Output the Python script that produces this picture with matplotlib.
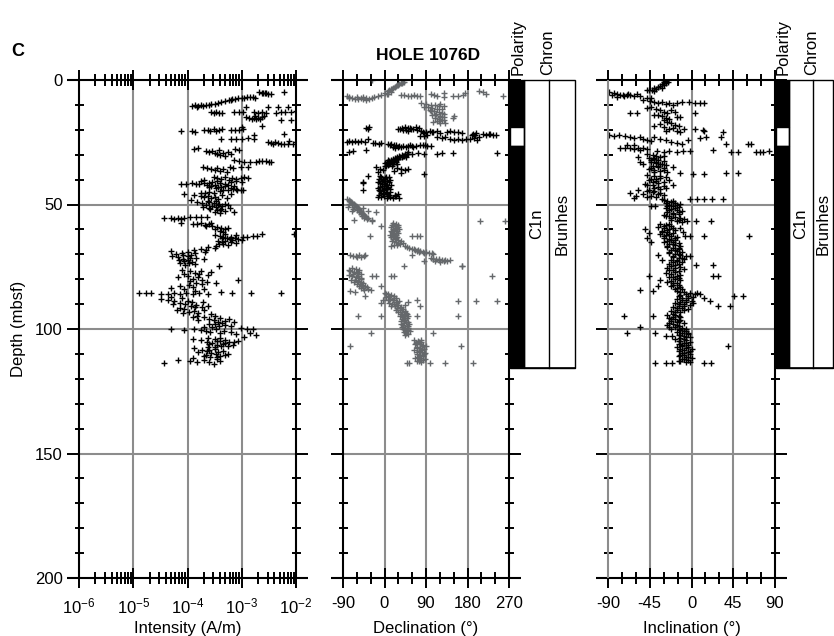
import numpy as np
import matplotlib
matplotlib.use("Agg")
import matplotlib.pyplot as plt
from matplotlib.patches import Rectangle
from matplotlib.ticker import FixedLocator, FixedFormatter, NullFormatter

plt.rcParams['font.family'] = ['Liberation Sans', 'DejaVu Sans']
plt.rcParams['font.size'] = 12
plt.rcParams['axes.unicode_minus'] = False

# ---------------------------------------------------------------- data
# Intensity of NRM after demagnetization: (depth mbsf, log10 intensity A/m)
intensity = [
    (5.0, -2.68), (5.2, -2.63), (5.4, -2.58), (5.1, -2.55), (5.6, -2.52), (5.8, -2.47), (5.3, -2.61), (4.7, -2.23),
    (8.3, -3.30), (8.0, -3.24), (7.8, -3.18), (7.6, -3.12), (7.4, -3.06), (7.2, -3.00), (7.3, -2.95), (7.0, -2.90),
    (6.9, -2.85), (6.8, -2.80), (7.1, -2.76), (7.9, -3.20),
    (10.3, -3.91), (10.0, -3.86), (10.4, -3.81), (10.2, -3.76), (10.4, -3.71), (10.1, -3.66), (10.0, -3.61),
    (9.8, -3.56), (9.5, -3.50), (9.2, -3.44), (9.0, -3.38), (10.7, -3.82),
    (10.7, -2.92), (10.7, -2.52), (10.8, -2.34), (10.7, -2.15),
    (13.0, -3.57), (13.1, -3.52), (13.0, -3.47), (13.2, -3.42), (13.1, -3.36), (13.0, -3.14), (12.8, -3.05),
    (13.0, -2.98), (12.9, -2.77), (13.2, -2.70), (13.0, -2.62), (13.2, -2.56), (13.1, -2.37), (12.9, -2.28),
    (12.9, -2.20), (12.7, -2.10), (12.4, -2.00),
    (14.9, -2.92), (15.2, -2.86), (15.6, -2.82), (15.4, -2.78), (15.8, -2.74), (15.1, -2.70), (15.5, -2.66),
    (14.8, -2.62), (14.6, -2.59), (16.0, -2.28), (16.1, -2.09), (14.5, -2.76),
    (18.8, -2.99), (18.6, -2.62), (20.6, -4.12), (20.6, -3.91), (20.9, -3.86), (20.2, -3.69), (20.0, -3.63),
    (20.4, -3.58), (19.8, -3.52), (20.6, -3.47), (20.2, -3.42), (19.6, -3.36), (19.9, -3.20), (20.1, -3.12),
    (20.2, -3.05), (19.5, -2.98),
    (22.0, -2.77), (21.8, -2.22), (23.5, -3.38), (23.7, -3.20), (23.6, -3.10), (23.8, -3.00), (23.4, -2.88), (23.6, -2.77),
    (24.8, -2.52), (25.2, -2.46), (25.6, -2.42), (25.0, -2.38), (25.4, -2.33), (25.8, -2.28), (25.6, -2.22),
    (25.9, -2.14), (25.7, -2.06), (25.0, -2.00), (24.4, -2.12),
    (27.8, -3.88), (27.5, -3.80), (28.5, -3.66), (29.0, -3.60), (28.6, -3.55), (29.4, -3.50), (29.8, -3.46),
    (28.2, -3.42), (30.1, -3.40), (29.2, -3.35), (30.5, -3.30), (28.8, -3.25), (29.6, -3.20), (27.6, -3.12), (28.0, -3.05),
    (32.3, -3.14), (32.6, -3.05), (32.8, -2.95), (33.0, -2.85), (32.8, -2.74), (32.5, -2.68), (32.7, -2.62),
    (32.4, -2.56), (32.9, -2.50), (33.1, -2.46),
    (35.0, -3.72), (35.4, -3.64), (35.6, -3.56), (36.0, -3.50), (35.2, -3.45), (36.4, -3.40), (35.8, -3.34),
    (36.8, -3.28), (34.8, -3.22), (35.5, -3.16), (35.1, -3.02), (34.9, -2.88),
    (38.8, -3.51), (39.2, -3.45), (39.6, -3.38), (39.0, -3.30), (40.0, -3.24), (39.4, -3.18), (39.8, -3.10),
    (39.2, -3.02), (38.8, -2.95), (39.5, -2.88),
    (41.6, -4.12), (41.8, -4.02), (41.5, -3.92), (41.7, -3.85), (41.9, -3.78), (41.4, -3.70), (42.2, -3.64),
    (42.6, -3.56), (42.0, -3.50), (43.0, -3.44), (42.8, -3.38), (44.0, -3.34), (44.2, -3.25), (43.8, -3.16),
    (44.0, -3.08), (44.1, -2.98), (45.2, -3.76), (45.4, -3.68), (45.0, -3.60), (45.3, -3.52), (41.0, -3.20),
    (40.6, -3.10), (40.8, -3.00), (40.5, -3.75), (41.2, -3.60), (42.5, -3.30), (43.2, -3.20), (43.6, -3.10), (44.1, -3.02),
    (40.2, -3.70), (40.9, -3.55), (41.5, -3.40), (42.3, -3.25), (43.0, -3.60), (43.5, -3.48), (42.7, -3.15),
    (41.8, -3.30), (40.4, -3.45), (44.5, -3.40),
    (45.8, -4.06), (46.2, -3.88), (46.6, -3.76), (47.0, -3.70), (46.4, -3.62), (47.4, -3.56), (46.8, -3.50),
    (47.8, -3.44), (46.0, -3.36), (47.2, -3.28), (45.9, -3.20),
    (48.2, -3.94), (48.8, -3.82), (49.4, -3.74), (50.0, -3.66), (49.0, -3.60), (50.6, -3.54), (51.2, -3.48),
    (49.8, -3.42), (51.8, -3.38), (52.4, -3.46), (52.8, -3.30), (50.4, -3.26), (53.0, -3.14), (51.0, -3.72),
    (52.0, -3.58), (48.6, -3.48),
    (48.4, -3.62), (49.2, -3.52), (50.2, -3.44), (50.8, -3.36), (51.5, -3.60), (52.2, -3.40), (53.2, -3.50),
    (49.6, -3.30), (51.4, -3.22), (53.6, -3.40),
    (55.4, -4.43), (55.6, -4.30), (55.8, -4.24), (55.5, -4.18), (55.7, -4.12), (55.4, -4.06), (55.2, -3.95),
    (54.9, -3.85), (55.1, -3.75), (55.0, -3.64),
    (57.6, -4.12), (57.8, -3.90), (58.0, -3.82), (57.6, -3.75), (58.2, -3.68), (57.8, -3.60), (58.6, -3.54),
    (59.2, -3.46), (59.6, -3.38), (60.0, -3.30), (59.4, -3.26),
    (57.4, -3.56), (58.8, -3.66), (59.8, -3.50), (60.6, -3.40), (61.2, -3.34),
    (62.0, -2.04), (62.2, -3.50), (62.6, -3.40), (63.0, -3.34), (63.4, -3.28), (63.8, -3.22), (64.2, -3.18),
    (63.6, -3.12), (64.0, -3.06), (63.2, -2.98), (63.0, -2.90), (62.8, -2.80), (62.6, -2.72), (64.6, -3.30),
    (65.2, -3.36), (65.8, -3.42), (66.2, -3.26), (65.0, -3.20), (61.8, -2.62),
    (62.4, -3.10), (63.0, -3.20), (63.6, -3.36), (64.4, -3.00), (65.4, -3.10), (66.0, -3.34), (64.8, -3.44),
    (62.0, -3.30), (66.6, -3.48),
    (67.2, -3.62), (68.0, -3.76), (68.4, -3.88), (69.0, -4.00), (69.6, -4.10), (70.0, -4.22), (70.6, -4.28),
    (71.2, -4.18), (71.8, -4.08), (72.4, -4.00), (73.0, -3.92), (73.6, -4.14), (74.2, -4.04), (70.4, -3.94),
    (71.4, -3.84), (72.0, -3.70), (69.2, -3.68), (74.6, -3.42), (68.6, -4.30),
    (70.2, -4.08), (70.8, -4.00), (71.6, -3.96), (72.2, -4.16), (72.8, -4.06), (73.4, -3.98), (69.4, -3.86),
    (68.2, -3.66), (67.6, -3.50), (74.0, -3.86),
    (76.2, -4.10), (76.8, -3.96), (77.4, -3.86), (78.0, -3.78), (78.6, -4.00), (79.2, -4.18), (79.8, -3.90),
    (80.4, -3.74), (81.0, -3.64), (81.6, -3.84), (82.2, -3.98), (82.8, -4.14), (83.4, -4.30), (80.2, -3.06),
    (77.0, -3.56), (81.4, -3.48), (83.8, -3.70), (78.4, -3.62),
    (76.6, -3.76), (77.8, -4.06), (79.0, -3.80), (80.8, -3.96), (82.0, -3.74), (83.0, -3.90), (84.0, -4.06), (84.6, -3.86),
    (85.4, -4.89), (85.5, -4.77), (85.4, -4.67), (85.8, -4.49), (86.0, -4.36), (85.6, -4.24), (85.9, -4.14),
    (85.4, -4.02), (85.8, -3.90), (85.6, -3.78), (86.0, -3.62), (85.3, -3.39), (85.5, -3.18), (85.4, -2.83), (85.5, -2.27),
    (88.0, -4.49), (88.4, -4.36), (88.8, -4.24), (89.4, -4.14), (90.0, -4.04), (90.6, -3.94), (91.2, -3.86),
    (91.8, -4.06), (92.4, -4.20), (93.0, -3.98), (93.6, -3.80), (89.0, -3.72), (90.8, -3.62), (92.2, -3.70),
    (87.6, -4.10), (94.0, -3.56),
    (87.0, -4.30), (88.6, -4.00), (89.8, -4.26), (90.4, -3.84), (91.4, -4.14), (92.8, -3.88), (93.4, -4.08),
    (91.0, -3.74), (89.2, -3.92),
    (94.6, -3.82), (95.2, -3.70), (95.8, -3.60), (96.4, -3.52), (97.0, -3.44), (97.6, -3.36), (98.2, -3.30),
    (98.8, -3.42), (99.2, -3.54), (96.0, -3.24), (97.2, -3.14), (95.0, -3.90),
    (94.8, -3.50), (95.6, -3.40), (96.2, -3.80), (96.8, -3.30), (97.8, -3.60), (98.6, -3.20), (99.0, -3.70), (98.0, -3.50),
    (99.8, -4.31), (100.4, -4.06), (100.0, -3.88), (100.6, -3.76), (101.0, -3.66), (101.4, -3.58), (100.2, -3.48),
    (101.8, -3.40), (100.8, -3.32), (99.6, -3.02), (99.8, -2.90), (100.0, -2.80), (101.8, -2.84), (102.6, -2.74),
    (101.2, -3.20), (103.4, -2.96), (102.0, -3.10),
    (104.0, -3.90), (104.6, -3.76), (105.2, -3.64), (105.8, -3.54), (106.4, -3.46), (107.0, -3.38), (104.4, -3.30),
    (105.4, -3.24), (106.6, -3.16), (104.8, -3.06), (105.0, -3.46), (106.0, -3.34), (103.8, -3.62), (107.4, -3.62),
    (104.2, -3.50), (104.9, -3.40), (105.6, -3.30), (106.2, -3.60), (106.8, -3.26), (103.6, -3.40), (105.2, -3.14),
    (107.2, -3.50),
    (107.8, -3.88), (108.4, -3.74), (109.0, -3.64), (109.6, -3.56), (110.2, -3.48), (110.8, -3.40), (111.2, -3.58),
    (108.8, -3.34), (110.0, -3.26), (111.0, -3.70), (108.0, -3.50),
    (108.6, -3.60), (109.4, -3.44), (110.4, -3.66), (111.4, -3.46), (109.2, -3.80), (110.6, -3.30), (111.8, -3.90),
    (113.6, -4.43), (112.4, -4.18), (112.8, -3.96), (113.2, -3.82), (112.6, -3.70), (113.4, -3.60), (114.0, -3.52),
    (112.2, -3.46), (113.0, -3.40),
]

# Declination, oriented intervals: (depth mbsf, declination deg)
declination_black = [
    (19.2, -40), (19.0, -34), (19.6, -36),
    (19.6, 30), (19.2, 38), (19.0, 45), (19.4, 50), (19.2, 56), (19.6, 62), (19.0, 68), (19.4, 74), (20.2, 40),
    (20.4, 50), (20.0, 46), (19.8, 34), (19.8, 58), (20.2, 70),
    (20.6, 80), (20.8, 90), (20.4, 98), (21.0, 106), (20.6, 114), (21.2, 121), (21.4, 86), (20.8, 84), (20.8, 102),
    (20.7, 135), (20.6, 142), (20.9, 150), (21.0, 160), (21.2, 168), (21.6, 192), (21.4, 198), (22.0, 196),
    (21.8, 213), (22.0, 220), (21.6, 228), (22.2, 235), (21.9, 242), (21.6, 226),
    (22.4, 78), (22.6, 85), (22.2, 92),
    (23.0, 114), (23.4, 124), (22.8, 132), (23.6, 142), (24.0, 150), (23.8, 160), (24.0, 168), (23.8, 176),
    (23.6, 186), (23.4, 194), (24.0, 200), (22.8, 206), (22.2, 190),
    (24.7, -82), (24.6, -76), (24.8, -70), (24.6, -64), (24.8, -58), (24.5, -50), (23.6, -36), (24.8, -43),
    (25.4, -26), (25.4, -20), (25.6, -13), (25.5, -7),
    (25.6, 7), (25.8, 14), (26.0, 20), (26.2, 26), (26.4, 32), (26.6, 40), (26.8, 46), (26.5, 52), (26.4, 60),
    (26.6, 68), (26.2, 76), (26.0, 84), (26.4, 92), (26.6, 100), (27.0, 30), (27.2, 22),
    (26.2, 12), (26.8, 36), (26.0, 56), (26.8, 62), (26.2, 88), (26.8, 18),
    (29.0, -78), (28.6, -68), (28.2, -40), (29.6, 50), (29.8, 60), (29.4, 72), (29.6, 85), (29.6, 114),
    (29.4, 124), (29.4, 149), (29.4, 245),
    (29.0, 50), (29.6, 44), (30.0, 38), (30.4, 32), (30.8, 28), (31.2, 22), (31.6, 18), (30.2, 45), (30.6, 40),
    (31.0, 34), (31.4, 28), (31.8, 24),
    (29.8, 48), (30.4, 42), (31.0, 38), (31.6, 30), (32.0, 26), (30.8, 46), (33.0, 20), (33.8, 10), (34.4, 2), (32.0, 8),
    (32.2, 14), (32.6, 10), (33.0, 6), (33.4, 12), (33.8, 18), (34.2, 8), (32.4, 20), (32.8, 24), (33.6, 28),
    (34.6, 4), (34.4, 16), (33.2, 0),
    (35.0, -18), (35.6, -10), (36.0, -4), (35.4, 28), (35.8, 36), (36.2, 44), (35.8, 50), (36.4, 21), (37.2, 36),
    (36.8, -14), (38.4, -36), (38.6, -10), (37.8, 85),
    (38.8, -8), (39.4, 0), (40.0, -4), (40.6, 6), (41.2, -10), (41.8, 2), (42.4, -6), (43.0, 8), (43.6, -2),
    (44.2, -12), (44.8, 4), (45.4, -8), (46.0, 10), (46.6, -2), (47.2, 6), (40.2, 12), (42.0, 14), (43.4, -14),
    (45.0, 12), (39.8, -12), (46.0, -12), (41.0, -46), (44.0, -46), (45.8, 30), (46.8, -14), (46.4, 22), (47.4, 18),
    (41.4, -46), (46.6, 25), (47.4, 32), (46.0, 22),
    (39.0, 4), (39.6, -8), (40.4, -2), (41.0, 10), (41.6, -6), (42.2, 4), (42.8, -10), (43.4, 6), (44.0, -4),
    (44.6, -10), (45.2, 6), (45.8, -4), (46.4, 8), (47.0, -8), (40.8, -14), (43.8, 12), (46.8, 12), (38.9, 10),
]

# Declination, remaining intervals: (depth mbsf, declination deg)
declination_gray = [
    (0.7, 43), (1.0, 40), (1.4, 36), (1.8, 32), (2.2, 30), (2.6, 26), (3.0, 22), (3.4, 18), (3.8, 14), (4.2, 10),
    (4.6, 7), (4.9, 14), (0.0, -28), (5.4, 0), (5.8, 5), (1.2, 38), (2.0, 28), (3.6, 16),
    (6.4, -82), (6.8, -76), (7.2, -70), (7.6, -64), (7.8, -58), (7.4, -52), (7.8, -46), (8.0, -40), (7.6, -34),
    (7.2, -28), (7.0, -22), (6.4, -14), (6.0, -7), (5.6, 7), (6.2, 36), (6.0, 43), (6.3, 50), (6.6, 57), (5.9, 64),
    (6.5, 71), (6.3, 78), (5.5, 100), (6.0, 107), (6.4, 114), (5.4, 128), (6.8, 128), (6.4, 149), (6.6, 160),
    (6.2, 170), (5.2, 174), (4.6, 206), (5.0, 213), (5.8, 221), (6.4, 256),
    (7.4, -76), (7.0, -60), (7.4, -40), (6.8, -46),
    (9.4, 80), (9.8, 90), (10.2, 100), (10.0, 110), (9.6, 120), (10.4, 128), (10.8, 94), (11.2, 104), (11.6, 114),
    (11.0, 85), (12.0, 98), (12.4, 108), (12.8, 118), (13.2, 124), (13.6, 112), (14.0, 102), (14.4, 120),
    (14.8, 128), (15.2, 110), (15.6, 118), (16.0, 124), (16.4, 114), (16.8, 106), (17.2, 120), (15.4, 148),
    (14.6, 150), (17.4, 132),
    (10.6, 118), (11.8, 124), (12.6, 100), (13.8, 130), (14.2, 110), (15.0, 120), (16.2, 130), (16.6, 118),
    (47.8, -81), (48.2, -78), (48.6, -75), (49.0, -72), (49.4, -70), (49.8, -67), (50.2, -64), (50.6, -62),
    (51.0, -60), (51.4, -58), (51.8, -56), (52.2, -55), (52.6, -52), (53.0, -50), (53.4, -48), (53.8, -46),
    (54.2, -44), (54.6, -42), (55.0, -40), (55.4, -44), (55.8, -38), (52.0, -68), (51.6, -46), (56.2, -28),
    (55.6, -35), (51.2, -80), (53.0, -18), (56.2, -66), (56.8, 208), (56.8, 262), (52.7, -71), (52.7, -35), (56.8, -28),
    (48.8, -72), (49.6, -76), (50.4, -70), (51.0, -66), (52.4, -60), (53.2, -56), (54.0, -50), (54.8, -48),
    (57.6, 18), (58.0, 26), (58.4, 30), (58.8, 22), (59.2, 14), (59.6, 24), (60.0, 32), (60.4, 20), (60.8, 28),
    (61.2, 16), (61.6, 24), (62.0, 18), (62.4, 12), (62.8, 20), (63.2, 14), (63.6, 26), (64.0, 22), (64.4, 30),
    (64.8, 36), (65.2, 24), (65.6, 40), (66.0, 34), (66.4, 20), (66.6, 14), (66.8, 44), (58.6, -7), (62.8, -32),
    (62.8, 60), (62.8, 71), (62.8, 78),
    (58.2, 16), (59.0, 30), (59.8, 18), (60.6, 14), (61.4, 30), (62.2, 24), (63.0, 28), (63.8, 18), (64.6, 16),
    (65.4, 30), (66.2, 28),
    (67.2, 49), (67.6, 54), (67.8, 60), (68.2, 66), (68.4, 72), (68.8, 78), (69.0, 84), (69.2, 90), (69.4, 96),
    (69.6, 102), (69.8, 106), (68.0, 64), (69.0, 74), (70.2, 60), (68.6, 70), (69.4, 86),
    (71.6, 100), (71.8, 106), (72.0, 112), (72.4, 118), (72.2, 124), (72.6, 130), (72.8, 136), (72.4, 141),
    (72.0, 106), (73.0, 120), (74.6, 169), (74.6, 42), (72.8, 85), (74.6, 168), (72.2, 132), (72.6, 110), (71.8, 118),
    (70.4, -74), (70.6, -68), (70.8, -62), (70.4, -56), (70.9, -50), (70.6, -44), (71.2, -60), (70.2, -42),
    (75.6, -70), (76.0, -62), (76.4, -56), (76.8, -74), (77.2, -66), (77.6, -60), (78.0, -52), (78.4, -78),
    (78.8, -70), (79.2, -62), (79.6, -56), (80.0, -50), (80.4, -64), (80.8, -58), (81.2, -52), (81.6, -46),
    (82.0, -54), (82.4, -48), (82.8, -42), (83.2, -38), (83.6, -46), (84.0, -36), (84.4, -30), (78.8, -28),
    (78.8, -18), (78.6, 14), (78.6, 21), (82.8, -7), (86.8, -42), (84.8, -74), (85.2, -64), (78.8, 233),
    (76.2, -76), (77.0, -58), (77.8, -68), (78.6, -58), (79.4, -50), (80.2, -72), (81.0, -66), (81.8, -60),
    (82.6, -56), (83.4, -52), (84.2, -44),
    (85.4, 0), (85.8, 8), (86.2, 14), (86.6, 20), (87.0, 4), (87.4, 26), (87.8, 12), (88.2, 18), (88.6, 32),
    (89.0, 24), (89.4, 10), (89.8, 16), (90.2, 30), (90.6, 22), (91.0, 36), (91.4, 28), (91.8, 40), (92.2, 34),
    (92.6, 44), (93.0, 38), (93.4, 46), (93.8, 36), (94.2, 42), (94.6, 50), (95.0, 40), (95.4, 48), (95.8, 38),
    (88.2, -4), (89.6, -7), (88.2, 70), (90.6, 78), (88.8, 159), (88.8, 198), (88.8, 244), (94.9, -58), (94.6, -7),
    (94.9, 71), (94.9, 159), (90.2, 45), (89.0, 50),
    (86.0, 4), (86.8, 10), (87.6, 20), (88.4, 8), (89.2, 28), (90.0, 20), (90.8, 14), (91.6, 34), (92.4, 26),
    (93.2, 30), (94.0, 48), (94.8, 34), (95.6, 44),
    (96.4, 44), (96.8, 36), (97.2, 50), (97.6, 42), (98.0, 54), (98.4, 40), (98.8, 48), (99.2, 38), (99.6, 52),
    (100.0, 44), (100.4, 48), (100.8, 56), (101.2, 42), (101.5, -30), (101.5, 106), (102.0, 50),
    (97.0, 46), (97.8, 36), (98.6, 52), (99.4, 44), (100.2, 40), (100.6, 50), (101.6, 46), (102.4, 44),
    (104.4, 64), (104.8, 72), (105.2, 80), (105.6, 68), (106.0, 76), (106.4, 84), (106.8, 90), (107.2, 70),
    (107.6, 78), (108.0, 86), (108.4, 64), (108.8, 74), (109.2, 82), (109.6, 88), (110.0, 70), (110.4, 78),
    (110.8, 84), (111.2, 72), (111.6, 80), (112.0, 88), (112.4, 76), (112.8, 70), (113.2, 80), (106.9, -74),
    (106.9, 166), (113.5, 53), (113.8, 49), (113.5, 99), (113.5, 131), (113.5, 192),
    (104.6, 80), (105.4, 74), (106.2, 66), (107.0, 82), (107.8, 70), (108.6, 80), (109.4, 70), (110.2, 86),
    (111.0, 76), (111.8, 66), (112.6, 84), (113.0, 74),
]

# Inclination: (depth mbsf, inclination deg)
inclination = [
    (0.6, -28), (0.8, -25), (1.0, -30), (1.4, -27), (1.8, -32), (2.2, -30), (2.6, -34), (3.0, -36), (3.2, -32),
    (3.4, -40), (3.8, -38), (4.0, -43), (4.2, -46), (4.4, -40), (4.0, -48),
    (5.0, -89), (5.4, -84), (5.8, -80), (6.2, -86), (6.0, -77), (6.4, -73), (6.2, -70), (6.0, -66), (6.6, -62),
    (5.8, -59), (6.4, -55), (6.8, -80), (6.0, -74), (5.6, -68), (8.0, -52), (7.4, -48), (7.2, -44),
    (8.6, -45), (9.0, -40), (9.4, -36), (8.8, -32), (9.6, -28), (9.2, -24), (10.0, -20), (9.4, -16), (8.7, -10),
    (8.7, -3), (9.4, 4), (9.4, 14), (9.2, 9),
    (11.0, -44), (11.6, -38), (12.2, -34), (12.8, -30), (13.4, -26), (14.0, -36), (14.6, -32), (15.2, -28),
    (15.8, -24), (12.0, -22), (13.0, -18), (14.2, -40), (13.4, -66), (13.4, -59), (14.7, -16), (14.7, -12),
    (13.4, 4), (11.2, -48),
    (16.2, -30), (16.8, -26), (17.4, -22), (18.0, -18), (18.6, -14), (19.2, -20), (19.8, -24), (20.4, -16),
    (21.0, -12), (17.6, -34), (18.4, -40), (19.6, -8), (19.0, -30), (20.6, -28), (19.6, 4), (20.2, 12),
    (20.6, 14), (20.7, 34),
    (22.0, -89), (22.6, -84), (22.2, -78), (22.6, -72), (23.0, -66), (23.4, -62), (22.8, -56), (23.6, -52),
    (24.0, -48), (24.4, -44), (23.0, -40), (23.6, -34), (24.2, -28), (24.8, -22), (25.2, -16), (25.8, -10),
    (24.0, -4), (23.4, 9), (23.0, 16), (22.8, 32), (25.8, 37), (25.8, 61), (25.8, 64), (26.0, -70), (26.0, -62),
    (27.2, -77), (27.4, -72), (27.3, -66), (27.6, -62), (27.4, -58), (27.2, -52), (27.8, -48), (28.0, -55),
    (28.6, -37), (28.8, -30), (28.4, -24), (28.8, -16), (28.6, -9), (28.4, -2), (28.1, 23), (28.8, 43), (28.8, 50),
    (28.8, 70), (28.8, 74), (28.8, 77), (28.6, 84),
    (29.8, -48), (30.2, -42), (30.6, -38), (31.0, -34), (31.4, -46), (31.8, -40), (32.2, -36), (32.6, -30),
    (33.0, -44), (33.4, -38), (33.8, -32), (34.2, -28), (34.6, -42), (35.0, -36), (35.4, -30), (35.8, -46),
    (36.2, -40), (36.6, -34), (37.0, -26), (31.0, -58), (33.6, -52), (35.0, -20), (37.4, -12), (37.6, 2),
    (37.8, 14), (37.4, 37), (37.4, 50), (33.0, -56),
    (30.4, -30), (31.2, -40), (32.0, -44), (32.8, -38), (33.6, -34), (34.4, -36), (35.2, -44), (36.0, -30), (36.8, -40),
    (38.0, -48), (38.6, -40), (39.2, -34), (39.8, -44), (40.4, -38), (41.0, -30), (41.6, -50), (42.2, -42),
    (42.8, -36), (43.4, -28), (44.0, -46), (44.6, -40), (45.2, -34), (45.8, -52), (46.4, -44), (47.0, -38),
    (47.6, -32), (45.4, -66), (44.0, -58), (42.0, -20), (40.0, -24), (46.4, -60), (47.4, -62), (47.6, -2),
    (47.8, 6), (47.6, 14), (47.8, 22), (47.6, 34),
    (38.4, -34), (39.0, -28), (39.6, -38), (40.2, -46), (40.8, -42), (41.4, -36), (42.0, -48), (42.6, -30),
    (43.2, -40), (43.8, -34), (44.4, -48), (45.0, -42), (45.6, -36), (46.2, -30), (46.8, -48),
    (48.2, -30), (48.6, -26), (49.0, -22), (49.4, -18), (49.8, -12), (50.2, -24), (50.6, -20), (51.0, -14),
    (51.4, -28), (51.8, -22), (52.2, -16), (52.6, -10), (53.0, -26), (53.4, -20), (53.8, -14), (54.2, -30),
    (54.6, -24), (55.0, -18), (55.4, -12), (55.8, -8), (56.2, -22), (56.6, -16), (57.0, -10), (50.8, -44),
    (50.8, -39), (56.6, -5), (56.8, 5), (56.6, 21),
    (48.4, -20), (49.2, -28), (50.0, -16), (50.8, -26), (51.6, -18), (52.4, -24), (53.2, -14), (54.0, -20),
    (54.8, -28), (55.6, -22), (56.4, -14),
    (57.8, -34), (58.2, -28), (58.6, -22), (59.0, -36), (59.4, -30), (59.8, -24), (60.2, -18), (60.6, -32),
    (61.0, -26), (61.4, -20), (61.8, -34), (62.2, -28), (62.6, -22), (63.0, -16), (63.4, -30), (63.8, -24),
    (64.2, -18), (64.6, -26), (65.0, -20), (65.4, -14), (65.8, -24), (66.2, -18), (66.6, -12), (60.0, -50),
    (61.4, -46), (63.4, -48), (65.2, -44), (62.8, -7), (62.8, -2), (62.8, 14), (62.8, 62), (59.4, -12), (61.0, -9),
    (58.0, -24), (58.8, -30), (59.6, -20), (60.4, -26), (61.2, -32), (62.0, -24), (62.8, -30), (63.6, -18),
    (64.4, -22), (65.2, -30), (66.0, -20), (66.8, -26),
    (67.2, -26), (67.6, -20), (68.0, -14), (68.4, -22), (68.8, -16), (69.2, -10), (69.6, -24), (70.0, -18),
    (70.4, -12), (70.8, -6), (71.2, -20), (71.6, -14), (72.0, -8), (72.4, -22), (72.8, -16), (73.2, -10),
    (70.1, -36), (70.8, -2), (74.2, 5), (74.2, 23), (72.2, -32),
    (67.4, -14), (68.2, -18), (69.0, -24), (69.8, -14), (70.6, -20), (71.4, -10), (72.2, -16), (73.0, -20),
    (73.8, -24), (74.4, -18), (75.0, -12), (75.6, -26), (76.2, -20), (76.8, -14), (77.4, -28), (78.0, -22),
    (78.6, -16), (79.2, -24), (79.8, -18), (80.4, -12), (81.0, -26), (81.6, -20), (82.2, -14), (82.8, -22),
    (83.4, -16), (84.0, -10), (78.8, -46), (78.8, 23), (78.8, 29), (82.8, -36), (84.2, -55), (84.8, -41),
    (80.2, -34), (76.0, -8),
    (74.0, -14), (74.8, -22), (75.4, -18), (76.4, -24), (77.2, -18), (78.2, -12), (79.0, -20), (79.6, -14),
    (80.6, -22), (81.4, -16), (82.4, -20), (83.2, -12), (83.8, -18),
    (84.6, -16), (85.0, -8), (85.4, -2), (85.8, 4), (86.2, -12), (86.6, -4), (87.0, 2), (87.4, -10), (87.8, -16),
    (88.2, -6), (88.6, 0), (89.0, -12), (89.4, -18), (89.8, -8), (90.2, -2), (90.6, -14), (91.0, -20),
    (91.4, -10), (91.8, -4), (92.2, -16), (92.6, -22), (93.0, -12), (85.4, 6), (86.0, 9), (87.4, 14), (88.8, 20),
    (90.8, 29), (90.8, 41), (86.8, 46), (86.8, 55), (89.4, 2),
    (85.2, -12), (86.0, -6), (86.8, -14), (87.6, -4), (88.4, -10), (89.2, -6), (90.0, -14), (90.8, -8),
    (91.6, -16), (92.4, -8), (93.2, -18),
    (93.8, -20), (94.2, -26), (94.6, -14), (95.0, -20), (95.4, -24), (95.8, -18), (96.2, -12), (96.6, -22),
    (97.0, -16), (97.4, -8), (97.8, -20), (98.2, -26), (98.6, -14), (99.0, -18), (99.4, -10), (99.8, -22),
    (94.9, -73), (94.9, -41), (99.0, -55), (100.2, -6),
    (94.4, -18), (95.2, -12), (96.0, -22), (96.8, -14), (97.6, -24), (98.4, -16), (99.2, -24), (100.0, -14),
    (100.6, -12), (101.0, -6), (101.4, -16), (101.8, -10), (102.2, -4), (102.6, -14), (103.0, -8), (103.4, -2),
    (103.8, -12), (104.2, -18), (104.6, -6), (105.0, -12), (105.4, -2), (105.8, -8), (106.2, -14), (106.6, -4),
    (107.0, -10), (107.4, -16), (107.8, -6), (108.2, 0), (108.6, -8), (109.0, -14), (109.4, -4), (109.8, -10),
    (110.2, -2), (110.6, -8), (111.0, -14), (111.4, -6), (111.8, 0), (112.2, -10), (112.6, -4), (113.0, -12),
    (113.4, -6), (101.5, -70), (101.5, -39), (102.9, -27), (102.9, -21), (106.9, 39), (113.5, -39), (113.5, -27),
    (113.5, -21), (113.5, 14), (113.5, 21),
    (100.8, -8), (101.6, -4), (102.4, -12), (103.2, -6), (104.0, -8), (104.8, -14), (105.6, -6), (106.4, -10),
    (107.2, -4), (108.0, -12), (108.8, -2), (109.6, -8), (110.4, -12), (111.2, -4), (112.0, -8), (112.8, -14),
    (113.2, -2),
]

# Magnetostratigraphy: polarity intervals (top, bottom, normal?) and chron
polarity_top = [0.0, 18.9, 26.5]
polarity_bottom = [18.9, 26.5, 115.7]
polarity_normal = [True, False, True]
chron_names = ["C1n", "Brunhes"]

intensity_ticks = [1e-6, 1e-5, 1e-4, 1e-3, 1e-2]
intensity_ticklabels = [r"$\mathregular{10^{-6}}$", r"$\mathregular{10^{-5}}$", r"$\mathregular{10^{-4}}$",
                        r"$\mathregular{10^{-3}}$", r"$\mathregular{10^{-2}}$"]
declination_ticks = [-90, 0, 90, 180, 270]
inclination_ticks = [-90, -45, 0, 45, 90]
depth_ticks = [0, 50, 100, 150, 200]

# ---------------------------------------------------------------- layout
W, H = 834, 636
TOP, BOT = 80, 578
fig = plt.figure(figsize=(W / 100, H / 100), dpi=100)

GRID = "#8c8c8c"
LW = 1.5
PT = 0.72  # points per pixel at 100 dpi


def px_axes(x0, x1):
    return fig.add_axes([x0 / W, 1 - BOT / H, (x1 - x0) / W, (BOT - TOP) / H])


def depth_frame(ax, width_px, xgrid, left_color="k", ext_l=12, ext_r=12, ext_r_top=None):
    ax.set_ylim(200, 0)
    for s in ax.spines.values():
        s.set_visible(False)
    el = ext_l / width_px
    er = ext_r / width_px
    ert = er if ext_r_top is None else ext_r_top / width_px
    kw = dict(transform=ax.transAxes, lw=LW, clip_on=False, zorder=5, solid_capstyle="butt")
    ax.plot([-el, 1 + ert], [1, 1], color="k", **kw)
    ax.plot([-el, 1 + er], [0, 0], color="k", **kw)
    ax.plot([0, 0], [0, 1], color=left_color, **kw)
    ax.plot([1, 1], [0, 1], color="k", **kw)
    for d in depth_ticks[1:-1]:
        ax.axhline(d, color=GRID, lw=LW, zorder=1)
    for v in xgrid:
        ax.axvline(v, color=GRID, lw=LW, zorder=1)
    ax.yaxis.set_major_locator(FixedLocator(depth_ticks))
    ax.yaxis.set_minor_locator(FixedLocator([d for d in range(10, 200, 10) if d % 50]))
    ax.tick_params(axis="y", which="major", direction="out", length=12 * PT, width=1.4,
                   left=True, right=True, pad=3, labelsize=12)
    ax.tick_params(axis="y", which="minor", direction="inout", length=9 * PT, width=1.4,
                   left=True, right=True)
    ax.tick_params(axis="x", which="major", direction="inout", length=20 * PT, width=1.4,
                   top=True, bottom=True, pad=6, labelsize=12)
    ax.tick_params(axis="x", which="minor", direction="inout", length=12 * PT, width=1.4,
                   top=True, bottom=True)
    ax.set_axisbelow(False)


def chron_column(x0, x_pol, x_div, x_right, x_axes_right):
    cax = px_axes(x0, x_axes_right)
    cax.set_xlim(x0, x_axes_right)
    cax.set_ylim(200, 0)
    cax.axis("off")
    base = polarity_bottom[-1]
    for t, b, n in zip(polarity_top, polarity_bottom, polarity_normal):
        cax.add_patch(Rectangle((x0 + 1, t), x_pol - x0 - 1, b - t,
                                facecolor="k" if n else "w", edgecolor="k", lw=1, clip_on=False))
    cax.add_patch(Rectangle((x_pol, 0), x_right - x_pol, base, fill=False, edgecolor="k", lw=1, clip_on=False))
    cax.plot([x_div, x_div], [0, base], color="k", lw=1, clip_on=False)
    cax.plot([x0, x_right], [base, base], color="k", lw=1.2, clip_on=False)
    cax.text((x_pol + x_div) / 2, base / 2, chron_names[0], rotation=90, ha="center", va="center", fontsize=12)
    cax.text((x_div + x_right) / 2, base / 2, chron_names[1], rotation=90, ha="center", va="center", fontsize=12)
    fig.text((x0 + x_pol) / 2 / W + 1.5 / W, 1 - 75 / H, "Polarity", rotation=90, ha="center", va="bottom", fontsize=12)
    fig.text((x_div - 1) / W, 1 - 75 / H, "Chron", rotation=90, ha="center", va="bottom", fontsize=12)


mk = dict(linestyle="none", marker="+", ms=4.6, mew=1.0, zorder=3)

# Intensity panel
ax1 = px_axes(79, 296)
ax1.set_xscale("log")
ax1.set_xlim(1e-6, 1e-2)
depth_frame(ax1, 217, intensity_ticks[1:-1])
d, v = np.array(intensity).T
ax1.plot(10.0 ** v, d, color="k", **mk)
ax1.xaxis.set_major_locator(FixedLocator(intensity_ticks))
ax1.xaxis.set_major_formatter(FixedFormatter(intensity_ticklabels))
ax1.xaxis.set_minor_locator(FixedLocator([m * 10.0 ** e for e in range(-6, -2) for m in range(2, 10)]))
ax1.xaxis.set_minor_formatter(NullFormatter())
ax1.set_xlabel("Intensity (A/m)", fontsize=12)
ax1.xaxis.set_label_coords(0.5, -(628 - BOT) / (BOT - TOP))
ax1.xaxis.label.set_va("center")
ax1.set_ylabel("Depth (mbsf)", fontsize=12)
ax1.yaxis.set_label_coords(-(79 - 19) / 217, 0.5)
ax1.yaxis.label.set_va("center")

# Declination panel
ax2 = px_axes(343, 509)
ax2.set_xlim(-90, 270)
depth_frame(ax2, 166, [0, 90, 180], ext_r_top=0)
d, v = np.array(declination_gray).T
ax2.plot(v, d, color="#65686b", **mk)
d, v = np.array(declination_black).T
ax2.plot(v, d, color="k", **mk)
ax2.xaxis.set_major_locator(FixedLocator(declination_ticks))
ax2.xaxis.set_minor_locator(FixedLocator([-60, -30, 30, 60, 120, 150, 210, 240]))
ax2.tick_params(axis="y", labelleft=False)
ax2.set_xlabel("Declination (°)", fontsize=12)
ax2.xaxis.set_label_coords(0.5, -(628 - BOT) / (BOT - TOP))
ax2.xaxis.label.set_va("center")

# Inclination panel
ax3 = px_axes(608, 775)
ax3.set_xlim(-90, 90)
depth_frame(ax3, 167, [-45, 0, 45], left_color=GRID, ext_r_top=0)
d, v = np.array(inclination).T
ax3.plot(v, d, color="k", **mk)
ax3.xaxis.set_major_locator(FixedLocator(inclination_ticks))
ax3.xaxis.set_minor_locator(FixedLocator([-75, -60, -30, -15, 15, 30, 60, 75]))
ax3.tick_params(axis="y", labelleft=False)
ax3.set_xlabel("Inclination (°)", fontsize=12)
ax3.xaxis.set_label_coords(0.5, -(628 - BOT) / (BOT - TOP))
ax3.xaxis.label.set_va("center")

# Polarity / chron columns
chron_column(509, 524, 549, 575, 576)
chron_column(775, 789, 813, 833, 834)

fig.text(428 / W, 1 - 55 / H, "HOLE 1076D", ha="center", va="center", fontsize=12.5, fontweight="bold")
fig.text(18 / W, 1 - 52 / H, "C", ha="center", va="center", fontsize=13, fontweight="bold")

fig.savefig("out.png", dpi=100)
